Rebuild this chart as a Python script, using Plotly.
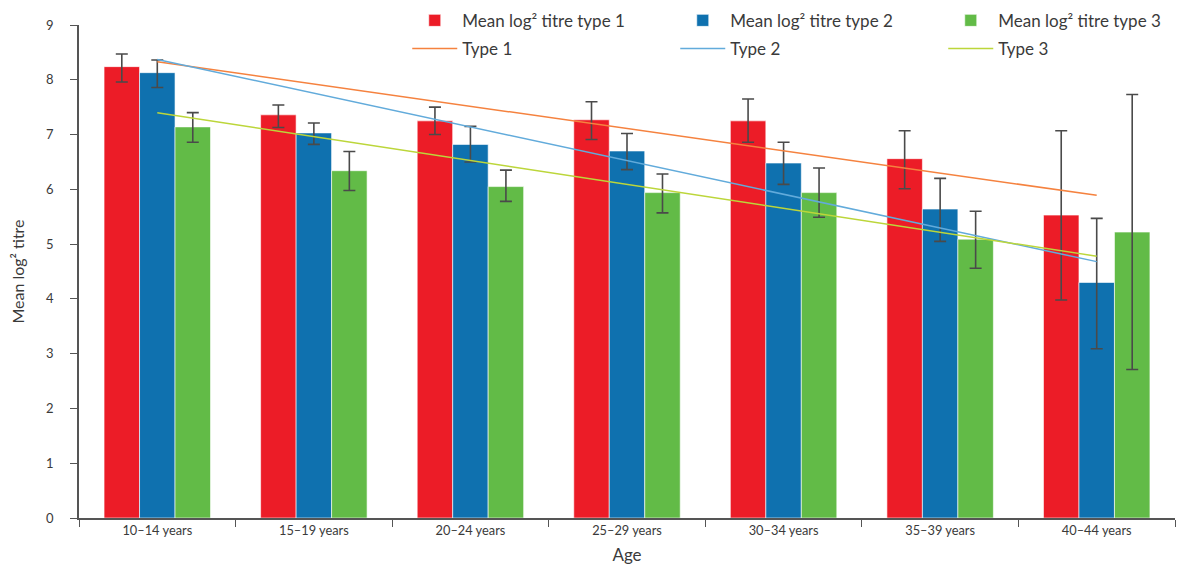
import plotly.graph_objects as go

categories = ["10–14 years", "15–19 years", "20–24 years", "25–29 years",
              "30–34 years", "35–39 years", "40–44 years"]

type1_mean = [8.24, 7.36, 7.25, 7.27, 7.25, 6.56, 5.53]
type1_hi   = [8.47, 7.54, 7.50, 7.60, 7.65, 7.07, 7.07]
type1_lo   = [7.96, 7.13, 7.00, 6.91, 6.86, 6.01, 3.98]

type2_mean = [8.13, 7.03, 6.82, 6.70, 6.48, 5.64, 4.30]
type2_hi   = [8.36, 7.21, 7.15, 7.02, 6.86, 6.20, 5.47]
type2_lo   = [7.86, 6.82, 6.50, 6.36, 6.09, 5.05, 3.09]

type3_mean = [7.14, 6.34, 6.05, 5.94, 5.94, 5.09, 5.22]
type3_hi   = [7.40, 6.69, 6.35, 6.28, 6.39, 5.60, 7.73]
type3_lo   = [6.86, 5.98, 5.78, 5.57, 5.49, 4.56, 2.71]

trend_x = [categories[0], categories[-1]]
trend1 = [8.33, 5.89]
trend2 = [8.37, 4.68]
trend3 = [7.40, 4.78]

FONT = "Lato"
TXT = "#3a3a3a"
ERR = "#4a4a4a"

fig = go.Figure()

def bar(name, y, hi, lo, color):
    fig.add_trace(go.Bar(
        x=categories, y=y, name=name,
        marker=dict(color=color, line=dict(color="rgba(255,255,255,0.6)", width=1)),
        error_y=dict(type="data", symmetric=False,
                     array=[h - m for h, m in zip(hi, y)],
                     arrayminus=[m - l for m, l in zip(y, lo)],
                     color=ERR, thickness=1.6, width=6),
        legend="legend",
    ))

bar("Mean log² titre type 1", type1_mean, type1_hi, type1_lo, "#EC1C27")
bar("Mean log² titre type 2", type2_mean, type2_hi, type2_lo, "#0F71AF")
bar("Mean log² titre type 3", type3_mean, type3_hi, type3_lo, "#62BB47")

for name, ys, col in [("Type 1", trend1, "#F5823F"),
                      ("Type 2", trend2, "#62ABDB"),
                      ("Type 3", trend3, "#BCD63A")]:
    fig.add_trace(go.Scatter(x=trend_x, y=ys, mode="lines", name=name,
                             line=dict(color=col, width=1.5), legend="legend2"))

legend_common = dict(orientation="h", xanchor="left", yanchor="top",
                     font=dict(family=FONT, size=17, color=TXT),
                     bgcolor="rgba(0,0,0,0)", entrywidth=208,
                     entrywidthmode="pixels", itemwidth=45, tracegroupgap=0)

fig.update_layout(
    width=1181, height=557,
    margin=dict(l=71, r=14, t=17, b=47, autoexpand=False),
    paper_bgcolor="white", plot_bgcolor="white",
    barmode="group", bargap=0.32, bargroupgap=0,
    font=dict(family=FONT, color=TXT),
    legend=dict(x=0.2995, y=1.045, **legend_common),
    legend2=dict(x=0.2995, y=0.988, **legend_common),
    xaxis=dict(
        type="category", showline=True, linecolor="#555", linewidth=1.5,
        ticks="outside", tickson="boundaries", ticklen=7, tickcolor="#555",
        tickfont=dict(family=FONT, size=12.8, color=TXT),
        title=dict(text="Age", font=dict(family=FONT, size=17, color=TXT), standoff=15),
        showgrid=False,
    ),
    yaxis=dict(
        range=[0, 9], dtick=1, showline=True, linecolor="#555", linewidth=1.5,
        ticks="outside", ticklen=7, tickcolor="#555", showgrid=False, zeroline=False,
        ticklabelstandoff=14,
        tickfont=dict(family=FONT, size=13, color=TXT),
        title=dict(text="Mean log² titre", font=dict(family=FONT, size=16, color=TXT), standoff=19),
    ),
)

fig.write_html("out.html")
